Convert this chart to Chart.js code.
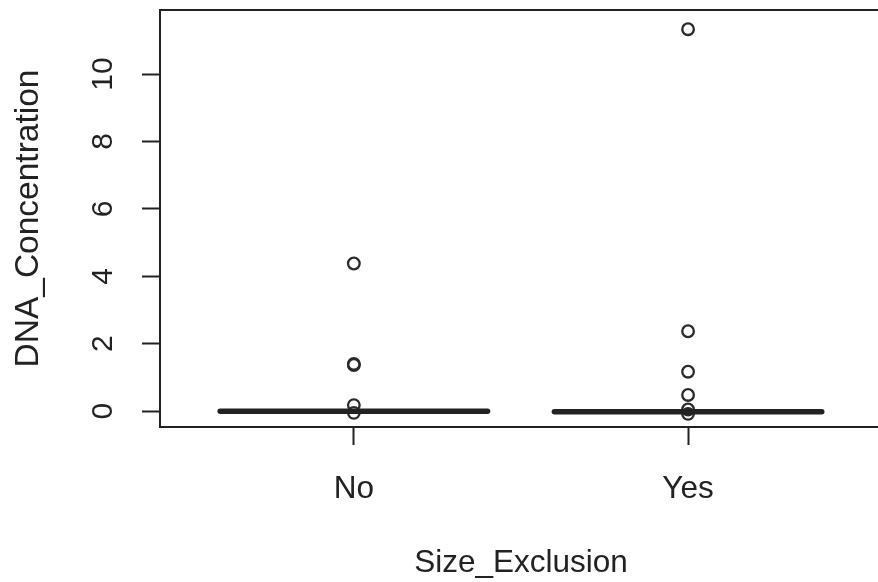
<!DOCTYPE html>
<html>
<head>
<meta charset="utf-8">
<script src="https://cdn.jsdelivr.net/npm/chart.js@4"></script>
<style>
  html, body { margin: 0; padding: 0; background: #fff; overflow: hidden; }
  #wrap { width: 890px; height: 582px; position: relative; }
</style>
</head>
<body>
<div id="wrap"><canvas id="c"></canvas></div>
<script>
// ---- data ----
const categories = ["No", "Yes"];
const medians = [0, -0.02];
const outliersNo = [4.38, 1.40, 1.37, 0.18, -0.05];
const outliersYes = [11.33, 2.37, 1.17, 0.48, 0.05, -0.08];
const yTicks = [0, 2, 4, 6, 8, 10];
const xTitle = "Size_Exclusion";
const yTitle = "DNA_Concentration";

const ink = "#222";
const fontFam = "'Liberation Sans', Arial, sans-serif";
const boxWidth = 0.8;

const medianSets = categories.map((c, i) => ({
  type: 'line',
  showLine: true,
  data: [
    { x: i + 1 - boxWidth / 2, y: medians[i] },
    { x: i + 1 + boxWidth / 2, y: medians[i] }
  ],
  borderColor: ink,
  borderWidth: 5.5,
  borderCapStyle: 'round',
  pointRadius: 0,
  fill: false
}));

const outlierLists = [outliersNo, outliersYes];
const outlierSets = outlierLists.map((list, i) => ({
  type: 'scatter',
  data: list.map(v => ({ x: i + 1, y: v })),
  pointStyle: 'circle',
  pointRadius: 5.8,
  pointBorderWidth: 2.3,
  pointBorderColor: '#2a2a2a',
  pointBackgroundColor: 'rgba(255,255,255,0)'
}));

const framePlugin = {
  id: 'frame',
  afterDraw(chart) {
    const a = chart.chartArea, ctx = chart.ctx;
    ctx.save();
    ctx.strokeStyle = ink;
    ctx.lineWidth = 2;
    ctx.strokeRect(a.left, a.top, a.right - a.left, a.bottom - a.top);
    ctx.restore();
  }
};

new Chart(document.getElementById('c'), {
  type: 'scatter',
  data: { datasets: [...medianSets, ...outlierSets] },
  options: {
    responsive: true,
    maintainAspectRatio: false,
    animation: false,
    layout: { padding: { top: 10, right: 2, left: 0, bottom: 0 } },
    plugins: { legend: { display: false }, tooltip: { enabled: false } },
    scales: {
      x: {
        type: 'linear',
        min: 0.42,
        max: 2.58,
        afterBuildTicks: axis => { axis.ticks = categories.map((c, i) => ({ value: i + 1 })); },
        afterFit: s => { s.height = 155; s.paddingLeft = 0; s.paddingRight = 0; },
        ticks: {
          callback: (v, idx) => categories[idx],
          font: { family: fontFam, size: 31.5 },
          color: ink,
          padding: 25,
          maxRotation: 0,
          autoSkip: false
        },
        grid: { drawOnChartArea: false, drawTicks: true, tickLength: 18, tickColor: ink, tickWidth: 2 },
        border: { display: false },
        title: {
          display: true,
          text: xTitle,
          font: { family: fontFam, size: 31.5 },
          color: ink,
          padding: { top: 0, bottom: 0 }
        }
      },
      y: {
        type: 'linear',
        min: -0.47,
        max: 11.9,
        afterBuildTicks: axis => { axis.ticks = yTicks.map(v => ({ value: v })); },
        afterFit: s => { s.width = 160; s.paddingTop = 0; s.paddingBottom = 0; },
        ticks: {
          font: { family: fontFam, size: 30 },
          color: ink,
          padding: 22,
          minRotation: 90,
          maxRotation: 90,
          crossAlign: 'center',
          autoSkip: false
        },
        grid: { drawOnChartArea: false, drawTicks: true, tickLength: 18, tickColor: ink, tickWidth: 2 },
        border: { display: false },
        title: {
          display: true,
          text: yTitle,
          font: { family: fontFam, size: 33.5 },
          color: ink,
          padding: { top: 9, bottom: 0 }
        }
      }
    }
  },
  plugins: [framePlugin]
});
</script>
</body>
</html>
